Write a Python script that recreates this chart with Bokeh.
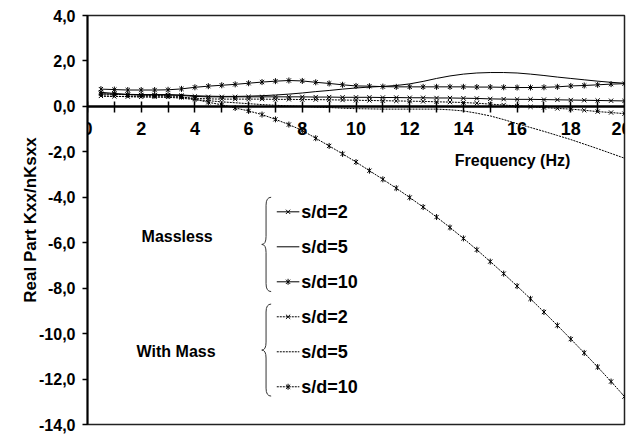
from bokeh.plotting import figure
from bokeh.models import Range1d, FixedTicker, Label
from bokeh.embed import file_html
from bokeh.resources import INLINE
import math

# ---------------- data ----------------
freq = [0.5, 1.0, 1.5, 2.0, 2.5, 3.0, 3.5, 4.0, 4.5, 5.0,
        5.5, 6.0, 6.5, 7.0, 7.5, 8.0, 8.5, 9.0, 9.5, 10.0,
        10.5, 11.0, 11.5, 12.0, 12.5, 13.0, 13.5, 14.0, 14.5, 15.0,
        15.5, 16.0, 16.5, 17.0, 17.5, 18.0, 18.5, 19.0, 19.5, 20.0]

massless_sd2 = [0.62, 0.57, 0.52, 0.50, 0.50, 0.50, 0.48, 0.44, 0.42, 0.42,
                0.42, 0.42, 0.42, 0.42, 0.42, 0.42, 0.41, 0.41, 0.40, 0.40,
                0.40, 0.39, 0.39, 0.38, 0.38, 0.37, 0.37, 0.36, 0.35, 0.33,
                0.32, 0.31, 0.31, 0.30, 0.29, 0.28, 0.27, 0.26, 0.25, 0.24]

massless_sd5 = [0.55, 0.54, 0.53, 0.52, 0.52, 0.52, 0.50, 0.47, 0.45, 0.44,
                0.44, 0.45, 0.47, 0.50, 0.54, 0.59, 0.65, 0.70, 0.76, 0.81,
                0.85, 0.88, 0.92, 0.99, 1.10, 1.23, 1.34, 1.42, 1.47, 1.49,
                1.49, 1.47, 1.42, 1.36, 1.29, 1.23, 1.17, 1.11, 1.06, 1.02]

massless_sd10 = [0.76, 0.74, 0.72, 0.72, 0.72, 0.73, 0.77, 0.84, 0.89, 0.93,
                 0.97, 1.02, 1.07, 1.11, 1.14, 1.12, 1.06, 1.01, 0.95, 0.90,
                 0.89, 0.87, 0.86, 0.86, 0.86, 0.86, 0.86, 0.86, 0.85, 0.85,
                 0.84, 0.83, 0.83, 0.84, 0.86, 0.90, 0.92, 0.95, 0.98, 1.00]

mass_sd2 = [0.46, 0.44, 0.43, 0.42, 0.42, 0.42, 0.40, 0.36, 0.33, 0.32,
            0.32, 0.32, 0.32, 0.31, 0.31, 0.30, 0.30, 0.29, 0.28, 0.27,
            0.26, 0.25, 0.24, 0.23, 0.22, 0.20, 0.19, 0.17, 0.14, 0.10,
            0.06, 0.02, -0.02, -0.05, -0.09, -0.12, -0.17, -0.23, -0.27, -0.32]

mass_sd5 = [0.45, 0.44, 0.43, 0.42, 0.41, 0.40, 0.36, 0.30, 0.25, 0.20,
            0.16, 0.12, 0.08, 0.05, 0.02, 0.00, -0.03, -0.05, -0.08, -0.10,
            -0.11, -0.12, -0.12, -0.12, -0.12, -0.12, -0.15, -0.20, -0.30, -0.42,
            -0.58, -0.76, -0.93, -1.10, -1.28, -1.46, -1.66, -1.86, -2.07, -2.28]

mass_sd10 = [0.55, 0.53, 0.51, 0.49, 0.48, 0.47, 0.43, 0.31, 0.18, 0.07,
             -0.07, -0.20, -0.36, -0.57, -0.80, -1.06, -1.40, -1.74, -2.09, -2.45,
             -2.83, -3.21, -3.60, -4.01, -4.43, -4.87, -5.33, -5.81, -6.31, -6.83,
             -7.36, -7.91, -8.47, -9.05, -9.64, -10.24, -10.85, -11.47, -12.11, -12.77]

series_labels = ["s/d=2", "s/d=5", "s/d=10", "s/d=2", "s/d=5", "s/d=10"]
group_labels = ["Massless", "With Mass"]

x_ticks = [0, 2, 4, 6, 8, 10, 12, 14, 16, 18, 20]
x_minor_ticks = [1, 3, 5, 7, 9, 11, 13, 15, 17, 19]
y_ticks = [-14, -12, -10, -8, -6, -4, -2, 0, 2, 4]
y_tick_labels = ["-14,0", "-12,0", "-10,0", "-8,0", "-6,0", "-4,0", "-2,0", "0,0", "2,0", "4,0"]

x_title = "Frequency (Hz)"
y_title = "Real Part Kxx/nKsxx"

# ---------------- styling ----------------
FONT = "Liberation Sans"
DOT = "2 1"

p = figure(width=631, height=435, x_range=Range1d(0, 20), y_range=Range1d(-14, 4),
           output_backend="svg", toolbar_location=None,
           min_border_left=87, min_border_right=7, min_border_top=15, min_border_bottom=11)

p.grid.visible = False
p.background_fill_color = "white"
p.border_fill_color = "white"
p.outline_line_color = "#222222"
p.outline_line_width = 1.5

# x axis placed at y = 0
xa = p.xaxis[0]
xa.fixed_location = 0
xa.ticker = FixedTicker(ticks=x_ticks, minor_ticks=x_minor_ticks)
xa.axis_line_color = "black"
xa.axis_line_width = 2.5
xa.major_tick_in = 5
xa.major_tick_out = 6
xa.minor_tick_in = 5
xa.minor_tick_out = 6
xa.major_tick_line_width = 1.5
xa.minor_tick_line_width = 1.5
xa.major_label_standoff = 10
xa.major_label_text_font = FONT
xa.major_label_text_font_style = "bold"
xa.major_label_text_font_size = "18px"
xa.major_label_text_color = "black"

ya = p.yaxis[0]
ya.ticker = FixedTicker(ticks=y_ticks, minor_ticks=[])
ya.major_label_overrides = {t: s for t, s in zip(y_ticks, y_tick_labels)}
ya.axis_line_color = "black"
ya.axis_line_width = 2
ya.major_tick_in = 0
ya.major_tick_out = 5
ya.major_tick_line_width = 1.5
ya.major_label_standoff = 7
ya.major_label_text_font = FONT
ya.major_label_text_font_style = "bold"
ya.major_label_text_font_size = "16px"
ya.major_label_text_color = "black"
ya.axis_label = y_title
ya.axis_label_text_font = FONT
ya.axis_label_text_font_style = "bold"
ya.axis_label_text_font_size = "17px"
ya.axis_label_text_color = "black"
ya.axis_label_standoff = -4

# ---------------- series ----------------
series = [
    (massless_sd2, "solid", "x"),
    (massless_sd5, "solid", None),
    (massless_sd10, "solid", "star"),
    (mass_sd2, DOT, "x"),
    (mass_sd5, DOT, None),
    (mass_sd10, DOT, "star"),
]


def marks(xs, ys, marker):
    p.scatter(xs, ys, marker="x", size=6, line_color="black", line_width=1)
    if marker == "star":
        p.scatter(xs, ys, marker="dash", angle=math.pi / 2, size=6, line_color="black", line_width=1)


for vals, dash, marker in series:
    p.line(freq, vals, line_color="black", line_width=1, line_dash=dash)
    if marker:
        marks(freq, vals, marker)

# ---------------- legend ----------------
leg_y = [-4.64, -6.18, -7.72, -9.26, -10.8, -12.34]
lx0, lx1, ltext = 7.05, 7.89, 7.96
for (vals, dash, marker), ly, lab in zip(series, leg_y, series_labels):
    p.line([lx0, lx1], [ly, ly], line_color="black", line_width=1, line_dash=dash)
    if marker:
        marks([(lx0 + lx1) / 2], [ly], marker)
    p.add_layout(Label(x=ltext, y=ly, text=lab, text_font=FONT, text_font_style="bold",
                       text_font_size="18px", text_baseline="middle", text_align="left",
                       text_color="black"))


def brace(top, bottom, xe=6.84, xs=6.65, xt=6.49, r=0.35):
    mid = (top + bottom) / 2
    p.quadratic(x0=[xe, xs, xe, xs], y0=[top, mid + r, bottom, mid - r],
                x1=[xs, xt, xs, xt], y1=[top - r, mid, bottom + r, mid],
                cx=[xs, xs, xs, xs], cy=[top, mid, bottom, mid],
                line_color="#333333", line_width=1)
    p.segment(x0=[xs, xs], y0=[top - r, mid - r], x1=[xs, xs], y1=[mid + r, bottom + r],
              line_color="#333333", line_width=1)


brace(-4.0, -8.15)
brace(-8.7, -12.75)

p.add_layout(Label(x=3.34, y=-5.71, text=group_labels[0], text_font=FONT, text_font_style="bold",
                   text_font_size="16px", text_baseline="middle", text_align="center",
                   text_color="black"))
p.add_layout(Label(x=3.30, y=-10.78, text=group_labels[1], text_font=FONT, text_font_style="bold",
                   text_font_size="16px", text_baseline="middle", text_align="center",
                   text_color="black"))

p.add_layout(Label(x=15.83, y=-2.4, text=x_title, text_font=FONT, text_font_style="bold",
                   text_font_size="16px", text_baseline="middle", text_align="center",
                   text_color="black"))

open("out.html", "w").write(file_html(p, INLINE))
